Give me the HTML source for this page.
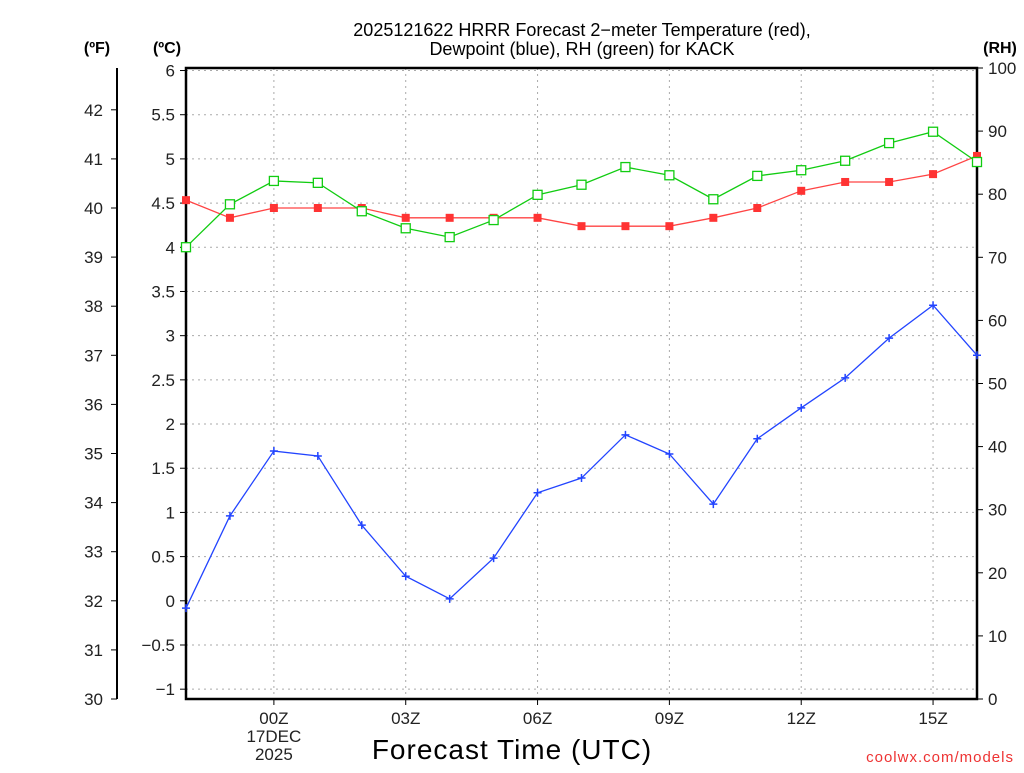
<!DOCTYPE html>
<html><head><meta charset="utf-8"><style>
body{margin:0;background:#fff;}
svg text{font-family:"Liberation Sans",sans-serif;}
</style></head><body>
<svg id="chart" width="1024" height="768" xmlns="http://www.w3.org/2000/svg">
<rect width="1024" height="768" fill="#fff"/>
<g id="grid"></g>
<g id="axes"></g>
<g id="series"></g>
<text x="582" y="36" text-anchor="middle" font-size="18" fill="#000">2025121622 HRRR Forecast 2−meter Temperature (red),</text>
<text x="582" y="55" text-anchor="middle" font-size="18" fill="#000">Dewpoint (blue), RH (green) for KACK</text>
<text x="97" y="53" text-anchor="middle" font-size="16" font-weight="bold">(ºF)</text>
<text x="167" y="53" text-anchor="middle" font-size="16" font-weight="bold">(ºC)</text>
<text x="1000" y="53" text-anchor="middle" font-size="16" font-weight="bold">(RH)</text>
<text x="512" y="759" text-anchor="middle" font-size="28" letter-spacing="1">Forecast Time (UTC)</text>
<text x="1014" y="762" text-anchor="end" font-size="15" fill="#e33" letter-spacing="1">coolwx.com/models</text>
</svg>
<script>
const hours=[-2,-1,0,1,2,3,4,5,6,7,8,9,10,11,12,13,14,15,16];
const tempF=[40.16,39.8,40.0,40.0,40.0,39.8,39.8,39.8,39.8,39.63,39.63,39.63,39.8,40.0,40.35,40.53,40.53,40.69,41.06];
const dewF=[31.85,33.73,35.05,34.95,33.54,32.5,32.04,32.87,34.2,34.5,35.38,34.99,33.97,35.3,35.93,36.54,37.35,38.02,37.0];
const rh=[71.6,78.4,82.1,81.8,77.3,74.6,73.2,75.9,79.9,81.5,84.3,83.0,79.2,82.9,83.8,85.3,88.1,89.9,85.1];
const fTicks=[30,31,32,33,34,35,36,37,38,39,40,41,42];
const cTicks=[-1,-0.5,0,0.5,1,1.5,2,2.5,3,3.5,4,4.5,5,5.5,6];
const rhTicks=[0,10,20,30,40,50,60,70,80,90,100];
const xTickHours=[0,3,6,9,12,15];
const xTickLabels=["00Z","03Z","06Z","09Z","12Z","15Z"];

const L=186,R=977,T=68,B=699;
const x=h=>L+(h+2)/18*(R-L);
const yF=f=>B-(f-30)*49.1;
const yC=c=>yF(c*9/5+32);
const yRH=r=>B-r/100*(B-T);
const NS="http://www.w3.org/2000/svg";
function mk(parent,tag,attrs){const e=document.createElementNS(NS,tag);for(const k in attrs)e.setAttribute(k,attrs[k]);document.getElementById(parent).appendChild(e);return e;}
function fmt(v){return v<0?"−"+Math.abs(v):String(v);}

// grid
cTicks.forEach(c=>{const e=mk('grid','line',{x1:L,x2:R,y1:yC(c),y2:yC(c),stroke:'#aaa','stroke-dasharray':'2,4'});

});
xTickHours.forEach(h=>{const e=mk('grid','line',{x1:x(h),x2:x(h),y1:T,y2:B,stroke:'#aaa','stroke-dasharray':'2,4'});

});

// plot frame
let fr=mk('axes','rect',{x:L,y:T,width:R-L,height:B-T,fill:'none',stroke:'#000','stroke-width':2.5});


// F axis
let fa=mk('axes','line',{x1:117,x2:117,y1:T,y2:B,stroke:'#000','stroke-width':2});


fTicks.forEach(f=>{mk('axes','line',{x1:111,x2:117,y1:yF(f),y2:yF(f),stroke:'#000'});
const t=mk('axes','text',{x:103,y:yF(f)+6,'text-anchor':'end','font-size':17,fill:'#222'});t.textContent=f;

});
cTicks.forEach(c=>{mk('axes','line',{x1:180,x2:186,y1:yC(c),y2:yC(c),stroke:'#000'});
const t=mk('axes','text',{x:175,y:yC(c)+6,'text-anchor':'end','font-size':17,fill:'#222'});t.textContent=fmt(c);

});
rhTicks.forEach(r=>{mk('axes','line',{x1:R,x2:R+6,y1:yRH(r),y2:yRH(r),stroke:'#000'});
const t=mk('axes','text',{x:988,y:yRH(r)+6,'text-anchor':'start','font-size':17,fill:'#222'});t.textContent=r;

});
xTickHours.forEach((h,i)=>{mk('axes','line',{x1:x(h),x2:x(h),y1:B,y2:B+6,stroke:'#000'});
const t=mk('axes','text',{x:x(h),y:724,'text-anchor':'middle','font-size':17,fill:'#222'});t.textContent=xTickLabels[i];

});
[["17DEC",742],["2025",760]].forEach(([s,yy])=>{const t=mk('axes','text',{x:x(0),y:yy,'text-anchor':'middle','font-size':17,fill:'#222'});t.textContent=s;

});

function line(vals,yf,color,name){
  const pts=hours.map((h,i)=>x(h)+','+yf(vals[i])).join(' ');
  const p=mk('series','polyline',{points:pts,fill:'none',stroke:color,'stroke-width':1.3});
  
  
}
line(tempF,yF,'#f44','temperature-line');
line(rh,yRH,'#1c1','rh-line');
line(dewF,yF,'#24f','dewpoint-line');
hours.forEach((h,i)=>{
  const m=mk('series','rect',{x:x(h)-4,y:yF(tempF[i])-4,width:8,height:8,fill:'#f33'});
  
  
  const g=mk('series','rect',{x:x(h)-4.5,y:yRH(rh[i])-4.5,width:9,height:9,fill:'#fff',stroke:'#1c1','stroke-width':1.3});
  
  
  const d=mk('series','path',{d:`M${x(h)-4},${yF(dewF[i])}h8M${x(h)},${yF(dewF[i])-4}v8`,stroke:'#24f','stroke-width':1.5});
  
  
});
</script>
</body></html>
